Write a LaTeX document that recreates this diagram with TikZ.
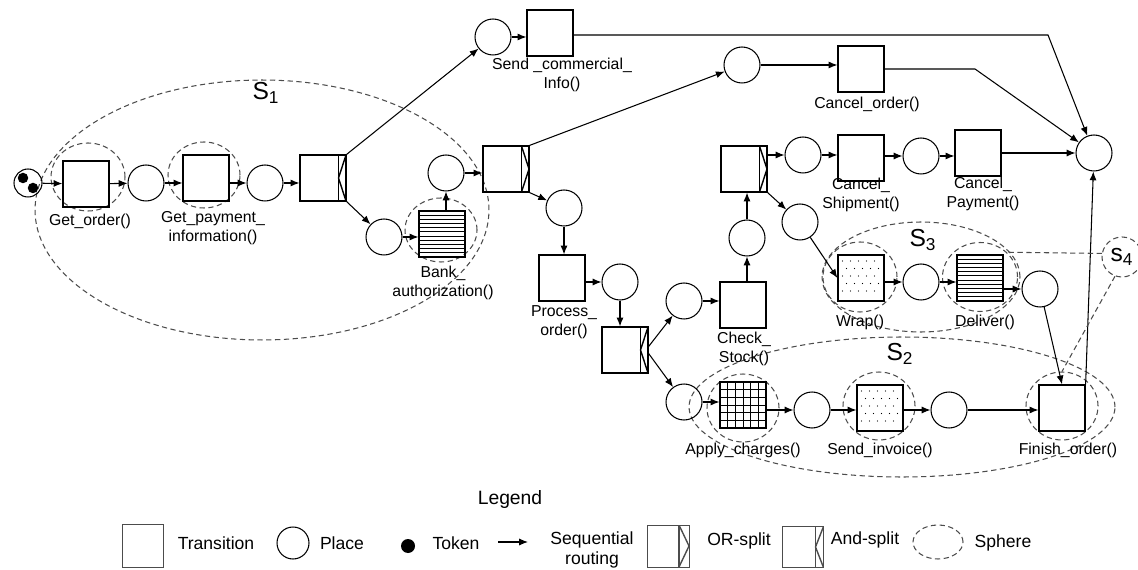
\documentclass[tikz,border=0pt]{standalone}
\usepackage{fontspec}
\setmainfont{Liberation Sans}
\usetikzlibrary{arrows.meta,calc,shapes.geometric}

\tikzset{
  stripw/.store in=\stripw, stripw=0.15cm,
  place/.style={circle, draw, line width=0.6pt, minimum size=0.72cm, inner sep=0pt},
  trans/.style={rectangle, draw, line width=0.7pt, minimum width=0.92cm, minimum height=0.92cm, inner sep=0pt},
  token/.style={circle, fill=black, minimum size=0.21cm, inner sep=0pt},
  flow/.style={-{Latex[length=5pt,width=4pt]}, line width=0.6pt},
  sphere/.style={ellipse, draw=black!70, dash pattern=on 3pt off 2pt, line width=0.6pt, inner sep=0pt},
  sphereline/.style={draw=black!70, dash pattern=on 3pt off 2pt, line width=0.6pt},
  lbl/.style={font=\fontsize{9}{10.8}\selectfont, align=center, inner sep=0pt},
  lgtext/.style={font=\fontsize{10}{11.5}\selectfont, align=center, inner sep=0pt},
  slabel/.style={font=\fontsize{14}{14}\selectfont, inner sep=0pt},
  orsplit/.style={trans, path picture={
      \draw[line width=0.8pt] ([xshift=-\stripw]path picture bounding box.north east) -- ([xshift=-\stripw]path picture bounding box.south east);
      \draw[line width=0.8pt] ([xshift=-\stripw]path picture bounding box.north east) -- (path picture bounding box.east) -- ([xshift=-\stripw]path picture bounding box.south east);}},
  andsplit/.style={trans, path picture={
      \draw[line width=0.8pt] ([xshift=-\stripw]path picture bounding box.north east) -- ([xshift=-\stripw]path picture bounding box.south east);
      \draw[line width=0.8pt] (path picture bounding box.north east) -- ([xshift=-\stripw]path picture bounding box.east) -- (path picture bounding box.south east);}},
  hatch/.style={path picture={
      \foreach \k in {1,...,10}{\draw[line width=0.5pt] ($(path picture bounding box.south west)!\k/11!(path picture bounding box.north west)$) -- ($(path picture bounding box.south east)!\k/11!(path picture bounding box.north east)$);}}},
  gridfill/.style={path picture={
      \foreach \k in {1,...,5}{
        \draw[line width=0.5pt] ($(path picture bounding box.south west)!\k/6!(path picture bounding box.north west)$) -- ($(path picture bounding box.south east)!\k/6!(path picture bounding box.north east)$);
        \draw[line width=0.5pt] ($(path picture bounding box.south west)!\k/6!(path picture bounding box.south east)$) -- ($(path picture bounding box.north west)!\k/6!(path picture bounding box.north east)$);}}},
  dotfill/.style={path picture={
      \foreach \i in {1,...,5}{\foreach \j in {1,...,3}{
        \fill ([xshift=\i*0.16cm-0.07cm, yshift=\j*0.3cm-0.1cm]path picture bounding box.south west) circle (0.35pt);
        \fill ([xshift=\i*0.16cm+0.01cm, yshift=\j*0.3cm+0.05cm]path picture bounding box.south west) circle (0.35pt);}}}}
}

\begin{document}
\begin{tikzpicture}[x=0.02cm, y=-0.02cm]
\useasboundingbox (0,0) rectangle (1138,570);

% Esferas
\node[sphere, minimum width=9.08cm, minimum height=5.2cm] (sOne) at (262,210) {};
\node[sphere, minimum width=1.48cm, minimum height=1.36cm] (sGetOrder) at (88,177) {};
\node[sphere, minimum width=1.44cm, minimum height=1.32cm] (sGetPay) at (204,175) {};
\node[sphere, minimum width=1.44cm, minimum height=1.28cm] (sBank) at (441,230) {};
\node[sphere, minimum width=3.96cm, minimum height=2.2cm] (sThree) at (921,277) {};
\node[sphere, minimum width=1.48cm, minimum height=1.4cm] (sWrap) at (860,277) {};
\node[sphere, minimum width=1.5cm, minimum height=1.38cm] (sDeliver) at (980,277) {};
\node[sphere, minimum width=8.52cm, minimum height=2.8cm] (sTwo) at (902,407) {};
\node[sphere, minimum width=1.44cm, minimum height=1.36cm] (sApply) at (743,408) {};
\node[sphere, minimum width=1.44cm, minimum height=1.36cm] (sInvoice) at (879,406) {};
\node[sphere, minimum width=1.44cm, minimum height=1.36cm] (sFinish) at (1062,406) {};
\node[sphere, minimum width=0.8cm, minimum height=0.8cm, slabel] (sS4) at (1122,257) {s\textsubscript{4}};
\node[slabel] (lsOne) at (266,93) {S\textsubscript{1}};
\node[slabel] (lsTwo) at (900,354) {S\textsubscript{2}};
\node[slabel] (lsThree) at (923,240) {S\textsubscript{3}};

% Lugares y transiciones
\node[place, minimum size=0.56cm] (p0) at (28,183) {};
\node[token] (tok1) at (23,178) {};
\node[token] (tok2) at (33,188) {};
\node[trans] (tGetOrder) at (86,184) {};
\node[place] (p1) at (146,183) {};
\node[trans] (tGetPay) at (206,178) {};
\node[place] (p2) at (265,183) {};
\node[andsplit] (tSplitA) at (323,178) {};
\node[place] (p3) at (384,237) {};
\node[trans, hatch] (tBank) at (442,234) {};
\node[place] (p4) at (446,173) {};
\node[orsplit] (tSplitB) at (506,169) {};
\node[place] (pTop) at (493,37) {};
\node[trans] (tSendInfo) at (550,33) {};
\node[place] (p5) at (742,65) {};
\node[trans] (tCancelOrder) at (861,69) {};
\node[place] (pEnd) at (1094,153) {};
\node[place] (p6) at (564,208) {};
\node[trans] (tProcess) at (562,278) {};
\node[place] (p7) at (620,282) {};
\node[andsplit] (tSplitC) at (625,350) {};
\node[place] (p8) at (684,301) {};
\node[place] (p9) at (684,402) {};
\node[trans] (tCheck) at (743,305) {};
\node[place] (p10) at (747,238) {};
\node[orsplit] (tSplitD) at (744,169) {};
\node[place] (p11) at (803,155) {};
\node[trans] (tCancelShip) at (861,158) {};
\node[place] (p13) at (921,156) {};
\node[trans] (tCancelPay) at (978,153) {};
\node[place] (p12) at (800,222) {};
\node[trans, dotfill] (tWrap) at (861,278) {};
\node[place] (p14) at (921,282) {};
\node[trans, hatch] (tDeliver) at (980,278) {};
\node[place] (p15) at (1040,289) {};
\node[trans, gridfill] (tApply) at (743,405) {};
\node[place] (p16) at (812,410) {};
\node[trans, dotfill] (tInvoice) at (880,408) {};
\node[place] (p17) at (949,410) {};
\node[trans] (tFinish) at (1062,408) {};
\coordinate (kTop) at (1048,35);
\coordinate (kCancel) at (975,69);

% Etiquetas
\node[lbl] (lGetOrder) at (90,221) {Get\_order()};
\node[lbl] (lGetPay) at (213,228) {Get\_payment\_\\information()};
\node[lbl] (lBank) at (443,283) {Bank\_\\authorization()};
\node[lbl] (lSendInfo) at (562,75) {Send \_commercial\_\\Info()};
\node[lbl] (lCancelOrder) at (867,104) {Cancel\_order()};
\node[lbl] (lProcess) at (564,322) {Process\_\\order()};
\node[lbl] (lCheck) at (744,349) {Check\_\\Stock()};
\node[lbl] (lCancelShip) at (861,195) {Cancel\_\\Shipment()};
\node[lbl] (lCancelPay) at (983,194) {Cancel\_\\Payment()};
\node[lbl] (lWrap) at (860,322) {Wrap()};
\node[lbl] (lDeliver) at (985,322) {Deliver()};
\node[lbl] (lApply) at (743,450) {Apply\_charges()};
\node[lbl] (lInvoice) at (880,450) {Send\_invoice()};
\node[lbl] (lFinish) at (1068,450) {Finish\_order()};

% Arcos
\draw[flow] (p0) -- (tGetOrder);
\draw[flow] (tGetOrder) -- (p1);
\draw[flow] (p1) -- (p1 -| tGetPay.west);
\draw[flow] (tGetPay.east |- p2) -- (p2);
\draw[flow] (p2) -- (p2 -| tSplitA.west);
\draw[flow] (tSplitA.north east) -- (pTop);
\draw[flow] (tSplitA.south east) -- (p3);
\draw[flow] (p3) -- (p3 -| tBank.west);
\draw[flow] (tBank.north -| p4) -- (p4);
\draw[flow] (p4) -- (p4 -| tSplitB.west);
\draw[flow] (pTop) -- (pTop -| tSendInfo.west);
\draw[flow] (tSendInfo.east |- kTop) -- (kTop) -- (pEnd);
\draw[flow] (tSplitB.north east) -- (p5);
\draw[flow] (tSplitB.south east) -- (p6);
\draw[flow] (p5) -- (p5 -| tCancelOrder.west);
\draw[flow] (tCancelOrder.east |- kCancel) -- (kCancel) -- (pEnd);
\draw[flow] (p6) -- (p6 |- tProcess.north);
\draw[flow] (tProcess.east |- p7) -- (p7);
\draw[flow] (p7) -- (p7 |- tSplitC.north);
\draw[flow] ([yshift=2pt]tSplitC.east) -- (p8);
\draw[flow] ([yshift=-2pt]tSplitC.east) -- (p9);
\draw[flow] (p8) -- (p8 -| tCheck.west);
\draw[flow] (tCheck.north -| p10) -- (p10);
\draw[flow] (p10) -- (p10 |- tSplitD.south);
\draw[flow] (tSplitD.east |- p11) -- (p11);
\draw[flow] (tSplitD.south east) -- (p12);
\draw[flow] (p11) -- (p11 -| tCancelShip.west);
\draw[flow] (tCancelShip.east |- p13) -- (p13);
\draw[flow] (p13) -- (p13 -| tCancelPay.west);
\draw[flow] (tCancelPay.east |- pEnd) -- (pEnd);
\draw[flow] (p12) -- (tWrap.west);
\draw[flow] (tWrap.east |- p14) -- (p14);
\draw[flow] (p14) -- (p14 -| tDeliver.west);
\draw[flow] (tDeliver.east |- p15) -- (p15);
\draw[flow] (p15) -- (tFinish.north);
\draw[flow] (p9) -- (p9 -| tApply.west);
\draw[flow] (tApply.east |- p16) -- (p16);
\draw[flow] (p16) -- (p16 -| tInvoice.west);
\draw[flow] (tInvoice.east |- p17) -- (p17);
\draw[flow] (p17) -- (p17 -| tFinish.west);
\draw[flow] (tFinish.north east) -- (pEnd);
\draw[sphereline] (sS4.170) -- (sDeliver.north east);
\draw[sphereline] (sS4.250) -- (sFinish.north);

% Leyenda
\node[font=\fontsize{11}{12}\selectfont, inner sep=0pt] (lgTitle) at (510,500) {Legend};
\node[trans, minimum width=0.82cm, minimum height=0.86cm, draw=black!70, line width=0.5pt] (lgTrans) at (143,546) {};
\node[lgtext] (lgTransTxt) at (216,543) {Transition};
\node[place, minimum size=0.64cm] (lgPlace) at (293,543) {};
\node[lgtext] (lgPlaceTxt) at (342,543) {Place};
\node[token, minimum size=0.28cm] (lgToken) at (408,546) {};
\node[lgtext] (lgTokenTxt) at (456,543) {Token};
\coordinate (lgA) at (498,542);
\coordinate (lgB) at (528,542);
\draw[flow] (lgA) -- (lgB);
\node[lgtext] (lgSeqTxt) at (592,550) {Sequential\\routing};
\node[orsplit, stripw=0.2cm, minimum size=0.84cm, line width=0.5pt, draw=black!70] (lgOr) at (668,546) {};
\node[lgtext] (lgOrTxt) at (739,541) {OR-split};
\node[andsplit, stripw=0.16cm, minimum size=0.82cm, line width=0.5pt, draw=black!70] (lgAnd) at (803,547) {};
\node[lgtext] (lgAndTxt) at (865,540) {And-split};
\node[sphere, minimum width=1cm, minimum height=0.68cm] (lgSphere) at (938,542) {};
\node[lgtext] (lgSphereTxt) at (1003,543) {Sphere};
\end{tikzpicture}
\end{document}
